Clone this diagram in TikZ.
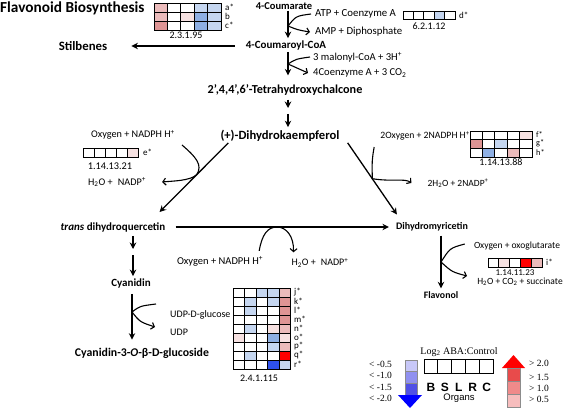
\documentclass[tikz,border=0pt]{standalone}
\usepackage{fontspec}
\setmainfont{Carlito}
\newfontfamily\timesfont{Liberation Serif}
\newfontfamily\arialfont{Liberation Sans}
\usetikzlibrary{arrows.meta,calc}

\definecolor{cw}{HTML}{FFFFFF}
\definecolor{clb}{HTML}{C5D6F0}
\definecolor{cmb}{HTML}{8EAFE3}
\definecolor{csb}{HTML}{2E50EC}
\definecolor{cvp}{HTML}{F6E1E1}
\definecolor{cpk}{HTML}{EBBBBB}
\definecolor{cdp}{HTML}{DE9494}
\definecolor{crd}{HTML}{FF0000}
\definecolor{bla}{HTML}{C8C8F8}
\definecolor{blb}{HTML}{9090F0}
\definecolor{blc}{HTML}{5050E6}
\definecolor{bld}{HTML}{0000FF}
\definecolor{rda}{HTML}{F7BDBD}
\definecolor{rdb}{HTML}{F08A8A}
\definecolor{rdc}{HTML}{E84B4B}
\definecolor{rdd}{HTML}{FF0000}

\newcommand{\fsz}[1]{\fontsize{#1}{#1}\selectfont}

\tikzset{
  titletxt/.style={font=\bfseries\fsz{15.3}, inner sep=0pt},
  cmpd/.style={font=\bfseries\fsz{11}, inner sep=1pt},
  sidetxt/.style={font=\fsz{10}, inner sep=1pt},
  ectxt/.style={font=\fsz{10}, inner sep=0pt},
  rowtxt/.style={font=\fsz{9}, inner sep=0pt, anchor=west},
  legtxt/.style={font=\timesfont\fsz{9.5}, inner sep=0pt},
  orgtxt/.style={font=\arialfont\bfseries\fsz{12}, inner sep=0pt},
  mainarr/.style={line width=1.3pt, -{Stealth[length=6.5pt,width=6.5pt]}},
  sidearr/.style={line width=1.1pt, -{Straight Barb[length=3pt,width=7pt]}},
  hcell/.style={draw=black, line width=0.8pt},
  legbox/.style={draw=black!45, line width=0.6pt},
}

\begin{document}
\begin{tikzpicture}[x=1pt, y=-1pt]
    \useasboundingbox (0,0) rectangle (567,409);

    % compounds
    \node[titletxt, anchor=base west] (title) at (0,12.5) {Flavonoid Biosynthesis};
    \node[cmpd, font=\bfseries\fsz{10.5}] (coum) at (284,6) {4-Coumarate};
    \node[cmpd] (coa) at (286,46) {4-Coumaroyl-CoA};
    \node[cmpd, font=\bfseries\fsz{12.8}] (stil) at (83,46) {Stilbenes};
    \node[cmpd, font=\bfseries\fsz{12.2}] (chal) at (285,90) {2’,4,4’,6’-Tetrahydroxychalcone};
    \node[cmpd, font=\bfseries\fsz{12.6}] (dhk) at (280,136) {(+)-Dihydrokaempferol};
    \node[cmpd] (tdq) at (113,227) {\textit{trans} dihydroquercetin};
    \node[cmpd, font=\bfseries\fsz{10}] (dhm) at (432,227) {Dihydromyricetin};
    \node[cmpd, font=\bfseries\fsz{9.8}] (flav) at (441,295) {Flavonol};
    \node[cmpd] (cyan) at (131,284) {Cyanidin};
    \node[cmpd, font=\bfseries\fsz{11.8}] (cyg) at (142,353) {Cyanidin-3-\textit{O}-β-D-glucoside};

    % co-substrates and co-products
    \node[sidetxt, font=\fsz{10.8}, anchor=west] (atp) at (314,14) {ATP + Coenzyme A};
    \node[sidetxt, font=\fsz{10.8}, anchor=west] (amp) at (314,32) {AMP + Diphosphate};
    \node[sidetxt, font=\fsz{10.6}, anchor=west] (mal) at (312,57) {3 malonyl-CoA + 3H\textsuperscript{+}};
    \node[sidetxt, font=\fsz{10.6}, anchor=west] (coe) at (312,73) {4Coenzyme A + 3 CO\textsubscript{2}};
    \node[sidetxt, font=\fsz{10.2}] (oxl) at (133,135) {Oxygen + NADPH H\textsuperscript{+}};
    \node[sidetxt, font=\fsz{10.2}] (h2l) at (117,182) {H\textsubscript{2}O +\enspace NADP\textsuperscript{+}};
    \node[sidetxt, font=\fsz{9.7}] (oxr) at (425,136) {2Oxygen + 2NADPH H\textsuperscript{+}};
    \node[sidetxt, font=\fsz{9.5}] (h2r) at (458,183) {2H\textsubscript{2}O + 2NADP\textsuperscript{+}};
    \node[sidetxt, font=\fsz{10.5}] (oxb) at (220,261) {Oxygen + NADPH H\textsuperscript{+}};
    \node[sidetxt] (h2b) at (320,263) {H\textsubscript{2}O +\enspace NADP\textsuperscript{+}};
    \node[sidetxt, font=\fsz{9.5}] (oxo) at (517,246) {Oxygen + oxoglutarate};
    \node[sidetxt, font=\fsz{9.5}] (succ) at (520,282) {H\textsubscript{2}O + CO\textsubscript{2} + succinate};
    \node[sidetxt, anchor=west] (udpg) at (169,315) {UDP-D-glucose};
    \node[sidetxt, anchor=west] (udp) at (169,332) {UDP};

    % points where side reactions meet the main arrows
    \coordinate (r1) at (288,26);
    \coordinate (r2) at (288,64);
    \coordinate (g1) at (288,108);
    \coordinate (g2) at (288,114);
    \coordinate (r4) at (277,227);
    \coordinate (g3) at (133,249);
    \coordinate (g4) at (133,255);
    \coordinate (r6) at (441,262);
    \coordinate (r7) at (132,312);

    % main pathway
    \draw[mainarr, shorten >=2pt] (coum.south -| r1) -- (coa.north -| r1);
    \draw[mainarr, shorten >=8pt] (coa.south -| r2) -- (chal.north -| r2);
    \draw[mainarr, shorten <=10pt, shorten >=23pt] (coa.west) -- (stil.east);
    \draw[mainarr, shorten <=3pt] (chal.south -| g1) -- (g1);
    \draw[mainarr, shorten >=2pt] (g2) -- (dhk.north -| g2);
    \draw[mainarr] ([xshift=9pt]dhk.south west) -- ([xshift=-7pt,yshift=9pt]tdq.north east);
    \draw[mainarr] ([xshift=7pt]dhk.south east) -- ([xshift=2pt,yshift=7pt]dhm.north west);
    \draw[mainarr, shorten <=9pt, shorten >=6pt] (tdq.east) -- (dhm.west);
    \draw[mainarr, shorten <=3pt, shorten >=2pt] (flav.north |- dhm.south) -- (flav.north);
    \draw[mainarr, shorten <=3pt] (tdq.south -| g3) -- (g3);
    \draw[mainarr, shorten >=2pt] (g4) -- (cyan.north -| g4);
    \draw[mainarr, shorten <=4pt, shorten >=7pt] (cyan.south -| r7) -- (cyg.north -| r7);

    \coordinate (r3) at ($([xshift=9pt]dhk.south west)!0.46!([xshift=-7pt,yshift=9pt]tdq.north east)$);
    \coordinate (r5) at ($([xshift=7pt]dhk.south east)!0.5!([xshift=2pt,yshift=7pt]dhm.north west)$);

    % side reactions
    \draw[sidearr] ([xshift=-3pt]atp.west) .. controls (296,16) .. (r1) .. controls (298,30) .. ([xshift=-4pt]amp.west);
    \draw[sidearr] ([xshift=-2pt]mal.west) .. controls (296,59) .. (r2) .. controls (298,68) .. ([xshift=-4pt]coe.west);
    \draw[sidearr] ([xshift=6pt,yshift=-10pt]oxl.east) .. controls (196,157) and (203,165) .. (r3)
        .. controls (190,181) and (172,181) .. ([xshift=15pt]h2l.east);
    \draw[sidearr] ([xshift=-5pt,yshift=-11pt]oxr.west) .. controls (372,160) .. (r5)
        .. controls (392,182) and (405,178) .. ([xshift=-15pt]h2r.west);
    \draw[sidearr] ([xshift=-5pt,yshift=4pt]oxb.north east) .. controls (262,234) and (268,227) .. (r4)
        .. controls (286,227) and (294,236) .. ([xshift=3pt,yshift=5pt]h2b.north west);
    \draw[sidearr] ([xshift=-8pt,yshift=2pt]oxo.west) .. controls (450,248) .. (r6)
        .. controls (452,272) .. ([xshift=-9pt,yshift=6pt]succ.west);
    \draw[sidearr] ([xshift=-13pt,yshift=11pt]udpg.west) .. controls (140,306) .. (r7)
        .. controls (140,322) .. ([xshift=-14pt,yshift=5pt]udp.west);

    % 2.3.1.95
    \foreach \hrow [count=\ri] in {{cpk,cw,cw,clb,clb},{cpk,cw,cvp,cmb,clb},{cdp,cw,cw,cmb,clb}}
        \foreach \hc [count=\ci] in \hrow
            \draw[hcell, fill=\hc] ({154+(\ci-1)*13.4},{3+(\ri-1)*9}) rectangle ++(13.4,9);
    \node[rowtxt] (ra) at (225,7.5) {a*};
    \node[rowtxt] (rb) at (225,16.5) {b};
    \node[rowtxt] (rc) at (225,25.5) {c*};
    \node[ectxt] (ec1) at (186,35.5) {2.3.1.95};

    % 6.2.1.12
    \foreach \hc [count=\ci] in {cw,cw,cw,clb,cw}
        \draw[hcell, fill=\hc] ({403+(\ci-1)*10.4},11) rectangle ++(10.4,8.5);
    \node[rowtxt] (rd) at (459,15) {d*};
    \node[ectxt] (ec2) at (429,26) {6.2.1.12};

    % 1.14.13.21
    \foreach \hc [count=\ci] in {cw,cw,cw,cw,cvp}
        \draw[hcell, fill=\hc] ({83+(\ci-1)*11},148) rectangle ++(11,9);
    \node[rowtxt] (re) at (143,152.5) {e*};
    \node[ectxt, font=\fsz{10.3}] (ec3) at (110,166) {1.14.13.21};

    % 1.14.13.88
    \foreach \hrow [count=\ri] in {{cw,cw,cw,cw,cvp},{cdp,cw,clb,cw,cw},{cw,cmb,cw,cpk,cw}}
        \foreach \hc [count=\ci] in \hrow
            \draw[hcell, fill=\hc] ({470+(\ci-1)*12.4},{131+(\ri-1)*8.7}) rectangle ++(12.4,8.7);
    \node[rowtxt, font=\fsz{8.3}] (rf) at (536,135) {f*};
    \node[rowtxt, font=\fsz{8.3}] (rg) at (536,143.7) {g*};
    \node[rowtxt, font=\fsz{8.3}] (rh) at (536,152.4) {h*};
    \node[ectxt] (ec4) at (501,162) {1.14.13.88};

    % 1.14.11.23
    \foreach \hc [count=\ci] in {cw,cvp,cw,crd,cpk}
        \draw[hcell, fill=\hc] ({488+(\ci-1)*10.8},258) rectangle ++(10.8,9);
    \node[rowtxt] (ri) at (546,262.5) {i*};
    \node[ectxt, font=\fsz{9}] (ec5) at (515,272.5) {1.14.11.23};

    % 2.4.1.115
    \foreach \hrow [count=\ri] in {{cw,cw,clb,clb,cpk},{cw,clb,cw,clb,cdp},{cw,clb,cw,cw,cdp},
            {cw,cw,cw,cw,cdp},{cw,clb,cw,cvp,cpk},{cvp,cw,cw,cmb,cvp},{cw,cw,cw,clb,cpk},
            {cw,clb,cw,cw,crd},{cw,cw,cw,csb,clb}}
        \foreach \hc [count=\ci] in \hrow
            \draw[hcell, fill=\hc] ({233+(\ci-1)*11.5},{288+(\ri-1)*9}) rectangle ++(11.5,9);
    \foreach \lab [count=\ri] in {j,k,l,m,n,o,p,q,r}
        \node[rowtxt] (r\lab) at (294,{292.5+(\ri-1)*9}) {\lab*};
    \node[ectxt] (ec6) at (259,378) {2.4.1.115};

    % legend
    \node[legtxt, font=\timesfont\fsz{10}] (logr) at (459,352) {Log\textsubscript{2} ABA:Control};
    \foreach \org [count=\ci] in {B,S,L,R,C} {
        \draw[line width=1pt] ({424+(\ci-1)*13.9},359) rectangle ++(13.9,14);
        \node[orgtxt] (o\org) at ({431+(\ci-1)*13.9},387) {\org};
    }
    \node[orgtxt, font=\arialfont\fsz{9.5}] (organs) at (459,398) {Organs};

    \foreach \bc [count=\ci] in {bla,blb,blc}
        \draw[legbox, fill=\bc] (405,{360+(\ci-1)*11.7}) rectangle ++(12,11.7);
    \fill[bld] (398,395) -- (422,395) -- (410,408) -- cycle;
    \node[legtxt, anchor=west] (lb1) at (369,364) {< -0.5};
    \node[legtxt, anchor=west] (lb2) at (369,375.5) {< -1.0};
    \node[legtxt, anchor=west] (lb3) at (369,387) {< -1.5};
    \node[legtxt, anchor=west] (lb4) at (369,398.5) {< -2.0};

    \fill[rdd] (502,368) -- (525,368) -- (513.5,355) -- cycle;
    \foreach \rc [count=\ci] in {rdc,rdb,rda}
        \draw[legbox, fill=\rc] (507,{368+(\ci-1)*13}) rectangle ++(13,13);
    \node[legtxt, anchor=west] (lr1) at (529,363) {> 2.0};
    \node[legtxt, anchor=west] (lr2) at (529,377) {> 1.5};
    \node[legtxt, anchor=west] (lr3) at (529,388) {> 1.0};
    \node[legtxt, anchor=west] (lr4) at (529,399) {> 0.5};
\end{tikzpicture}
\end{document}
